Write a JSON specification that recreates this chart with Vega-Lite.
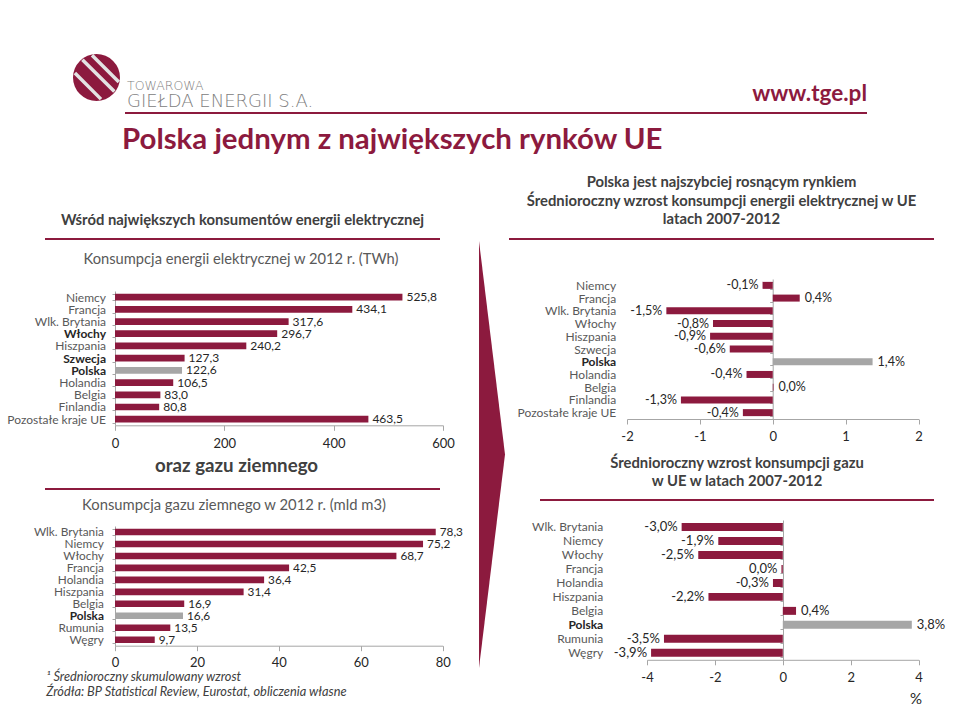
{
  "$schema": "https://vega.github.io/schema/vega-lite/v6.json",
  "padding": 0,
  "background": "white",
  "spacing": 0,
  "config": {
    "font": "Lato",
    "view": {"stroke": null},
    "axis": {"grid": false, "domainColor": "#A6A6A6", "tickColor": "#A6A6A6", "labelColor": "#404040", "labelFont": "Lato", "titleFont": "Lato"},
    "axisX": {"labelFlush": false},
    "title": {"font": "Lato", "subtitleFont": "Lato", "baseline": "top", "frame": "group"},
    "locale": {"number": {"decimal": ",", "thousands": " ", "grouping": [3], "currency": ["", ""], "minus": "-"}}
  },
  "vconcat": [
    {"width": 960, "height": 48, "data": {"values": []}, "mark": "point"},
    {
      "hconcat": [
        {"width": 73, "height": 58, "data": {"values": []}, "mark": "point"},
        {
          "width": 47, "height": 47,
          "data": {"values": [{"logo": "TGE"}]},
          "layer": [
            {"mark": {"type": "point", "shape": "circle", "size": 2209, "filled": true, "color": "#8C1A3E", "opacity": 1, "strokeWidth": 0}},
            {"mark": {"type": "point", "shape": "M-0.6,-0.76L0.76,0.6M-0.92,-0.19L0.19,0.92M-0.19,-0.95L0.95,0.19", "size": 2209, "filled": false, "color": "#E3E3E3", "strokeWidth": 3.5, "opacity": 1}}
          ]
        },
        {"width": 5, "height": 1, "data": {"values": []}, "mark": "point"},
        {
          "width": 615, "height": 58, "data": {"values": []}, "mark": "point",
          "title": {"text": "TOWAROWA", "subtitle": "GIEŁDA ENERGII S.A.", "orient": "bottom", "anchor": "start", "dx": 2, "font": "DejaVu Sans", "fontSize": 12.5, "fontWeight": 300, "color": "#808080", "subtitleFont": "DejaVu Sans", "subtitleFontSize": 18, "subtitleFontWeight": 300, "subtitleColor": "#808080", "subtitlePadding": 1, "offset": -32.5}
        },
        {
          "width": 127, "height": 58, "data": {"values": []}, "mark": "point",
          "title": {"text": "www.tge.pl", "orient": "bottom", "anchor": "end", "fontSize": 22.5, "fontWeight": "bold", "color": "#8C1A3E", "offset": -29}
        }
      ],
      "spacing": 0, "bounds": "flush"
    },
    {
      "hconcat": [
        {"width": 125, "height": 2, "data": {"values": []}, "mark": "point"},
        {"width": 742, "height": 2, "view": {"fill": "#8C1A3E", "stroke": null}, "data": {"values": []}, "mark": "point"}
      ],
      "spacing": 0, "bounds": "flush"
    },
    {
      "hconcat": [
        {"width": 122, "height": 47, "data": {"values": []}, "mark": "point"},
        {
          "width": 540, "height": 47, "data": {"values": []}, "mark": "point",
          "title": {"text": "Polska jednym z największych rynków UE", "orient": "bottom", "anchor": "start", "fontSize": 29.4, "fontWeight": "bold", "color": "#8C1A3E", "offset": -35}
        }
      ],
      "spacing": 0, "bounds": "flush"
    },
    {
      "hconcat": [
        {
          "vconcat": [
            {
              "hconcat": [
                {"width": 45, "height": 77, "data": {"values": []}, "mark": "point"},
                {
                  "width": 395, "height": 77, "data": {"values": []}, "mark": "point",
                  "title": {"text": "Wśród największych konsumentów energii elektrycznej", "orient": "bottom", "anchor": "middle", "fontSize": 14.8, "fontWeight": "bold", "color": "#404040", "offset": -24.7}
                },
                {"width": 38, "height": 1, "data": {"values": []}, "mark": "point"}
              ],
              "spacing": 0, "bounds": "flush"
            },
            {
              "hconcat": [
                {"width": 45, "height": 2, "data": {"values": []}, "mark": "point"},
                {"width": 395, "height": 2, "view": {"fill": "#8C1A3E", "stroke": null}, "data": {"values": []}, "mark": "point"}
              ],
              "spacing": 0, "bounds": "flush"
            },
            {
              "hconcat": [
                {"width": 45, "height": 45, "data": {"values": []}, "mark": "point"},
                {
                  "width": 395, "height": 45, "data": {"values": []}, "mark": "point",
                  "title": {"text": "Konsumpcja energii elektrycznej w 2012 r. (TWh)", "orient": "bottom", "anchor": "middle", "dx": -1.5, "fontSize": 14.7, "fontWeight": "normal", "color": "#595959", "offset": -33.5}
                }
              ],
              "spacing": 0, "bounds": "flush"
            },
            {
              "hconcat": [
                {"width": 115, "height": 160, "data": {"values": []}, "mark": "point"},
                {
                  "width": 328, "height": 134.3,
                  "data": {"values": [
                    {"kraj": "Niemcy", "v": 525.8},
                    {"kraj": "Francja", "v": 434.1},
                    {"kraj": "Wlk. Brytania", "v": 317.6},
                    {"kraj": "Włochy", "v": 296.7},
                    {"kraj": "Hiszpania", "v": 240.2},
                    {"kraj": "Szwecja", "v": 127.3},
                    {"kraj": "Polska", "v": 122.6},
                    {"kraj": "Holandia", "v": 106.5},
                    {"kraj": "Belgia", "v": 83.0},
                    {"kraj": "Finlandia", "v": 80.8},
                    {"kraj": "Pozostałe kraje UE", "v": 463.5}
                  ]},
                  "transform": [{"calculate": "replace(replace(format(datum.v, '.1f'), '.', ','), '−', '-')", "as": "label"}],
                  "encoding": {
                    "y": {"field": "kraj", "type": "nominal", "sort": null, "scale": {"paddingInner": 0.45, "paddingOuter": 0.225},
                      "axis": {"title": null, "tickBand": "extent", "tickSize": 3, "labelPadding": 6.5, "labelFontSize": 12,
                        "labelColor": {"condition": {"test": "indexof(['Włochy','Szwecja','Polska'], datum.value) >= 0", "value": "#262626"}, "value": "#595959"},
                        "labelFontWeight": {"condition": {"test": "indexof(['Włochy','Szwecja','Polska'], datum.value) >= 0", "value": "bold"}, "value": "normal"}}},
                    "x": {"field": "v", "type": "quantitative", "scale": {"domain": [0, 600], "nice": false},
                      "axis": {"title": null, "values": [0, 200, 400, 600], "tickSize": 5, "labelPadding": 7, "labelFontSize": 13, "labelColor": "#262626"}}
                  },
                  "layer": [
                    {"mark": {"type": "bar"}, "encoding": {"color": {"condition": {"test": "datum.kraj === 'Polska'", "value": "#A6A6A6"}, "value": "#8C1A3E"}}},
                    {"mark": {"type": "text", "align": "left", "baseline": "middle", "dx": 4, "fontSize": 12, "color": "#262626"}, "encoding": {"text": {"field": "label", "type": "nominal"}}}
                  ]
                }
              ],
              "spacing": 0, "bounds": "flush"
            },
            {
              "hconcat": [
                {"width": 45, "height": 37, "data": {"values": []}, "mark": "point"},
                {
                  "width": 395, "height": 37, "data": {"values": []}, "mark": "point",
                  "title": {"text": "oraz gazu ziemnego", "orient": "bottom", "anchor": "middle", "dx": -6, "fontSize": 18.7, "fontWeight": "bold", "color": "#404040", "offset": -31}
                }
              ],
              "spacing": 0, "bounds": "flush"
            },
            {
              "hconcat": [
                {"width": 45, "height": 2, "data": {"values": []}, "mark": "point"},
                {"width": 395, "height": 2, "view": {"fill": "#8C1A3E", "stroke": null}, "data": {"values": []}, "mark": "point"}
              ],
              "spacing": 0, "bounds": "flush"
            },
            {
              "hconcat": [
                {"width": 45, "height": 31, "data": {"values": []}, "mark": "point"},
                {
                  "width": 395, "height": 31, "data": {"values": []}, "mark": "point",
                  "title": {"text": "Konsumpcja gazu ziemnego w 2012 r. (mld m3)", "orient": "bottom", "anchor": "middle", "dx": -8.5, "fontSize": 14.8, "fontWeight": "normal", "color": "#595959", "offset": -23.5}
                }
              ],
              "spacing": 0, "bounds": "flush"
            },
            {
              "hconcat": [
                {"width": 114.3, "height": 1, "data": {"values": []}, "mark": "point"},
                {
                  "width": 327.7, "height": 119.7,
                  "data": {"values": [
                    {"kraj": "Wlk. Brytania", "v": 78.3},
                    {"kraj": "Niemcy", "v": 75.2},
                    {"kraj": "Włochy", "v": 68.7},
                    {"kraj": "Francja", "v": 42.5},
                    {"kraj": "Holandia", "v": 36.4},
                    {"kraj": "Hiszpania", "v": 31.4},
                    {"kraj": "Belgia", "v": 16.9},
                    {"kraj": "Polska", "v": 16.6},
                    {"kraj": "Rumunia", "v": 13.5},
                    {"kraj": "Węgry", "v": 9.7}
                  ]},
                  "transform": [{"calculate": "replace(replace(format(datum.v, '.1f'), '.', ','), '−', '-')", "as": "label"}],
                  "encoding": {
                    "y": {"field": "kraj", "type": "nominal", "sort": null, "scale": {"paddingInner": 0.45, "paddingOuter": 0.225},
                      "axis": {"title": null, "tickBand": "extent", "tickSize": 3, "labelPadding": 8.6, "labelFontSize": 11.8,
                        "labelColor": {"condition": {"test": "datum.value === 'Polska'", "value": "#262626"}, "value": "#595959"},
                        "labelFontWeight": {"condition": {"test": "datum.value === 'Polska'", "value": "bold"}, "value": "normal"}}},
                    "x": {"field": "v", "type": "quantitative", "scale": {"domain": [0, 80], "nice": false},
                      "axis": {"title": ["¹ Średnioroczny skumulowany wzrost", "Źródła: BP Statistical Review, Eurostat, obliczenia własne"],
                        "titleFontStyle": "italic", "titleFontWeight": "normal", "titleFontSize": 12.8, "titleColor": "#404040", "titleAlign": "left", "titleBaseline": "top", "titleX": -69.3, "titleY": 24.5, "titleLineHeight": 15,
                        "values": [0, 20, 40, 60, 80], "tickSize": 5, "labelPadding": 6, "labelFontSize": 13, "labelColor": "#262626"}}
                  },
                  "layer": [
                    {"mark": {"type": "bar"}, "encoding": {"color": {"condition": {"test": "datum.kraj === 'Polska'", "value": "#A6A6A6"}, "value": "#8C1A3E"}}},
                    {"mark": {"type": "text", "align": "left", "baseline": "middle", "dx": 4, "fontSize": 11.8, "color": "#262626"}, "encoding": {"text": {"field": "label", "type": "nominal"}}}
                  ]
                }
              ],
              "spacing": 0, "bounds": "flush"
            }
          ],
          "spacing": 0
        },
        {
          "vconcat": [
            {"width": 26, "height": 77, "data": {"values": []}, "mark": "point"},
            {
              "width": 26, "height": 433,
              "data": {"values": [{"arrow": "chevron"}]},
              "mark": {"type": "point", "shape": "M-0.0609,-1L0.0609,0L-0.0609,1Z", "size": 182329, "filled": true, "color": "#8C1A3E", "opacity": 1, "strokeWidth": 0}
            }
          ],
          "spacing": 0
        },
        {"width": 3, "height": 1, "data": {"values": []}, "mark": "point"},
        {
          "vconcat": [
            {
              "width": 425, "height": 77, "data": {"values": []}, "mark": "point",
              "title": {"text": ["Polska jest najszybciej rosnącym rynkiem", "Średnioroczny wzrost konsumpcji energii elektrycznej w UE", "latach 2007-2012"], "orient": "bottom", "anchor": "middle", "fontSize": 14.8, "fontWeight": "bold", "color": "#404040", "lineHeight": 18.6, "offset": -63}
            },
            {"width": 425, "height": 2, "view": {"fill": "#8C1A3E", "stroke": null}, "data": {"values": []}, "mark": "point"},
            {"width": 1, "height": 33, "data": {"values": []}, "mark": "point"},
            {
              "hconcat": [
                {"width": 117.3, "height": 165, "data": {"values": []}, "mark": "point"},
                {
                  "width": 291.5, "height": 140,
                  "data": {"values": [
                    {"kraj": "Niemcy", "v": -0.14},
                    {"kraj": "Francja", "v": 0.37},
                    {"kraj": "Wlk. Brytania", "v": -1.46},
                    {"kraj": "Włochy", "v": -0.82},
                    {"kraj": "Hiszpania", "v": -0.86},
                    {"kraj": "Szwecja", "v": -0.59},
                    {"kraj": "Polska", "v": 1.37},
                    {"kraj": "Holandia", "v": -0.36},
                    {"kraj": "Belgia", "v": 0.01},
                    {"kraj": "Finlandia", "v": -1.26},
                    {"kraj": "Pozostałe kraje UE", "v": -0.41}
                  ]},
                  "transform": [{"calculate": "replace(replace(format(abs(datum.v) < 0.05 ? 0 : datum.v, '.1f'), '.', ','), '−', '-') + '%'", "as": "label"}],
                  "encoding": {
                    "y": {"field": "kraj", "type": "nominal", "sort": null, "scale": {"paddingInner": 0.45, "paddingOuter": 0.225},
                      "axis": {"title": null, "tickBand": "extent", "tickSize": 3, "offset": -145.7, "labelPadding": 154, "labelFontSize": 12,
                        "labelColor": {"condition": {"test": "datum.value === 'Polska'", "value": "#262626"}, "value": "#595959"},
                        "labelFontWeight": {"condition": {"test": "datum.value === 'Polska'", "value": "bold"}, "value": "normal"}}},
                    "x": {"field": "v", "type": "quantitative", "scale": {"domain": [-2, 2], "nice": false},
                      "axis": {"title": null, "values": [-2, -1, 0, 1, 2], "format": "d", "tickSize": 5, "labelPadding": 6, "labelFontSize": 13, "labelColor": "#262626"}}
                  },
                  "layer": [
                    {"mark": {"type": "bar"}, "encoding": {"color": {"condition": {"test": "datum.kraj === 'Polska'", "value": "#A6A6A6"}, "value": "#8C1A3E"}}},
                    {"transform": [{"filter": "datum.v >= 0"}], "mark": {"type": "text", "align": "left", "baseline": "middle", "dx": 5, "fontSize": 12.5, "color": "#262626"}, "encoding": {"text": {"field": "label", "type": "nominal"}}},
                    {"transform": [{"filter": "datum.v < 0"}], "mark": {"type": "text", "align": "right", "baseline": "middle", "dx": -4, "fontSize": 12.5, "color": "#262626"}, "encoding": {"text": {"field": "label", "type": "nominal"}}}
                  ]
                }
              ],
              "spacing": 0, "bounds": "flush"
            },
            {
              "hconcat": [
                {"width": 31, "height": 55, "data": {"values": []}, "mark": "point"},
                {
                  "width": 394, "height": 55, "data": {"values": []}, "mark": "point",
                  "title": {"text": ["Średnioroczny wzrost konsumpcji gazu", "w UE w latach 2007-2012"], "orient": "bottom", "anchor": "middle", "fontSize": 14.8, "fontWeight": "bold", "color": "#404040", "lineHeight": 18, "offset": -43}
                }
              ],
              "spacing": 0, "bounds": "flush"
            },
            {
              "hconcat": [
                {"width": 31, "height": 2, "data": {"values": []}, "mark": "point"},
                {"width": 394, "height": 2, "view": {"fill": "#8C1A3E", "stroke": null}, "data": {"values": []}, "mark": "point"}
              ],
              "spacing": 0, "bounds": "flush"
            },
            {"width": 1, "height": 13, "data": {"values": []}, "mark": "point"},
            {
              "hconcat": [
                {"width": 138, "height": 1, "data": {"values": []}, "mark": "point"},
                {
                  "width": 271.6, "height": 139.8,
                  "data": {"values": [
                    {"kraj": "Wlk. Brytania", "v": -2.98},
                    {"kraj": "Niemcy", "v": -1.9},
                    {"kraj": "Włochy", "v": -2.49},
                    {"kraj": "Francja", "v": -0.04},
                    {"kraj": "Holandia", "v": -0.29},
                    {"kraj": "Hiszpania", "v": -2.19},
                    {"kraj": "Belgia", "v": 0.39},
                    {"kraj": "Polska", "v": 3.8},
                    {"kraj": "Rumunia", "v": -3.5},
                    {"kraj": "Węgry", "v": -3.88}
                  ]},
                  "transform": [{"calculate": "replace(replace(format(abs(datum.v) < 0.05 ? 0 : datum.v, '.1f'), '.', ','), '−', '-') + '%'", "as": "label"}],
                  "encoding": {
                    "y": {"field": "kraj", "type": "nominal", "sort": null, "scale": {"paddingInner": 0.43, "paddingOuter": 0.215},
                      "axis": {"title": null, "tickBand": "extent", "tickSize": 3, "offset": -136, "labelPadding": 177.3, "labelFontSize": 12,
                        "labelColor": {"condition": {"test": "datum.value === 'Polska'", "value": "#262626"}, "value": "#595959"},
                        "labelFontWeight": {"condition": {"test": "datum.value === 'Polska'", "value": "bold"}, "value": "normal"}}},
                    "x": {"field": "v", "type": "quantitative", "scale": {"domain": [-4, 4], "nice": false},
                      "axis": {"title": "%", "titleFontSize": 15, "titleFontWeight": "normal", "titleColor": "#262626", "titleAlign": "center", "titleBaseline": "middle", "titleX": 268.5, "titleY": 39,
                        "values": [-4, -2, 0, 2, 4], "format": "d", "tickSize": 5, "labelPadding": 7, "labelFontSize": 13, "labelColor": "#262626"}}
                  },
                  "layer": [
                    {"mark": {"type": "bar"}, "encoding": {"color": {"condition": {"test": "datum.kraj === 'Polska'", "value": "#A6A6A6"}, "value": "#8C1A3E"}}},
                    {"transform": [{"filter": "datum.v >= 0"}], "mark": {"type": "text", "align": "left", "baseline": "middle", "dx": 5, "fontSize": 13, "color": "#262626"}, "encoding": {"text": {"field": "label", "type": "nominal"}}},
                    {"transform": [{"filter": "datum.v < 0"}], "mark": {"type": "text", "align": "right", "baseline": "middle", "dx": -4, "fontSize": 13, "color": "#262626"}, "encoding": {"text": {"field": "label", "type": "nominal"}}}
                  ]
                }
              ],
              "spacing": 0, "bounds": "flush"
            }
          ],
          "spacing": 0
        }
      ],
      "spacing": 0
    }
  ]
}
